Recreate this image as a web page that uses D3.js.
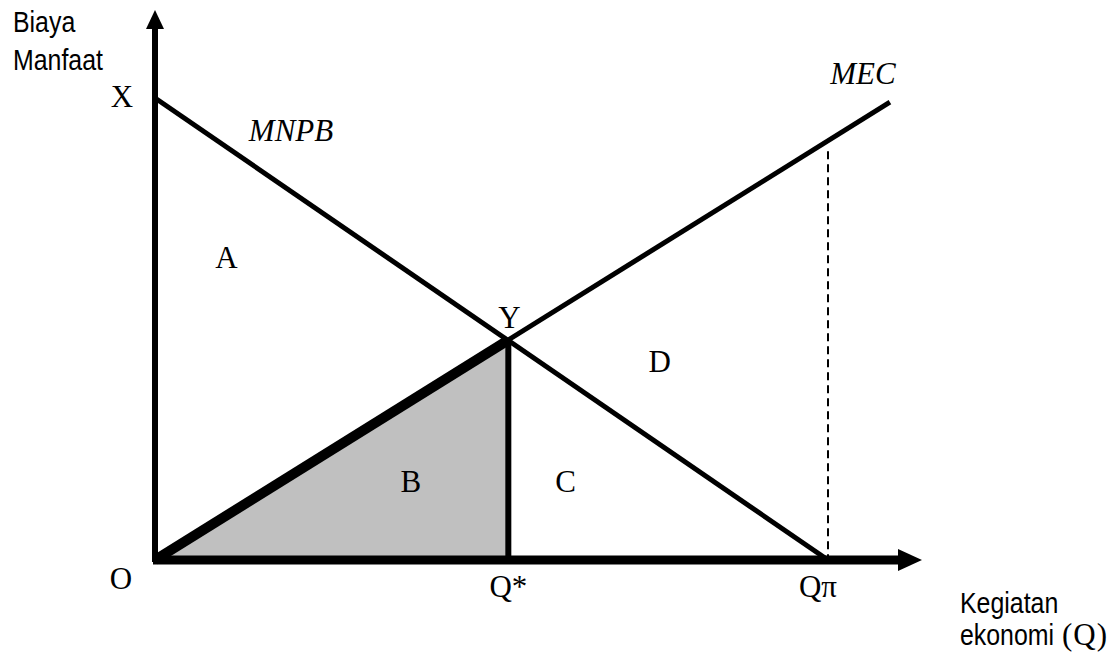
<!DOCTYPE html>
<html>
<head>
<meta charset="utf-8">
<script src="https://cdn.jsdelivr.net/npm/d3@7"></script>
<style>
  body { margin: 0; background: #fff; }
  .serif { font-family: "Liberation Serif", "Times New Roman", serif; font-size: 31px; }
  .sans { font-family: "Liberation Sans", Arial, sans-serif; font-size: 30px; }
</style>
</head>
<body>
<div class="canvas"></div>
<script>
// curves (Q, value)
const mnpbQ = [0, 10];
const mnpbV = [10, 0];
const mecQ = [0, 10.92];
const mecV = [0, 9.91];

// equilibrium
const qStar = [5.25];
const vStar = [4.76];

// points on the Q axis
const tickNames = ['O', 'Q*', 'Q\u03c0'];
const tickQ = [0, 5.25, 10];

// area labels
const areaNames = ['A', 'B', 'C', 'D'];
const areaQ = [1.06, 3.8, 6.1, 7.5];
const areaV = [6.32, 1.47, 1.47, 4.08];

const svg = d3.select('.canvas')
    .append('svg')
    .attr('width', 1111)
    .attr('height', 652);

const x = d3.scaleLinear().domain([0, 10]).range([155, 828]);
const y = d3.scaleLinear().domain([0, 10]).range([560, 98]);

const line = d3.line()
    .x(d => x(d[0]))
    .y(d => y(d[1]));

// shaded area B
svg.append('path')
    .attr('d', line([[0, 0], [qStar[0], vStar[0]], [qStar[0], 0]]) + 'Z')
    .attr('fill', '#c0c0c0');

// dashed line at Q pi
svg.append('line')
    .attr('x1', x(tickQ[2])).attr('x2', x(tickQ[2]))
    .attr('y1', y(8.85)).attr('y2', y(0))
    .attr('stroke', '#000')
    .attr('stroke-width', 2)
    .attr('stroke-dasharray', '8,5');

// axes with arrow heads
svg.append('line')
    .attr('x1', x(0)).attr('x2', x(0))
    .attr('y1', y(0) + 2).attr('y2', 26)
    .attr('stroke', '#000').attr('stroke-width', 6);
svg.append('path')
    .attr('d', `M${x(0)},10 L${x(0) - 9},29 L${x(0) + 9},29 Z`)
    .attr('fill', '#000');

svg.append('line')
    .attr('x1', x(0) - 2).attr('x2', 900)
    .attr('y1', y(0)).attr('y2', y(0))
    .attr('stroke', '#000').attr('stroke-width', 9);
svg.append('path')
    .attr('d', `M922,${y(0)} L898,${y(0) - 11} L898,${y(0) + 11} Z`)
    .attr('fill', '#000');

// MNPB
svg.append('path')
    .attr('d', line(d3.zip(mnpbQ, mnpbV)))
    .attr('stroke', '#000').attr('stroke-width', 5).attr('fill', 'none');

// MEC
svg.append('path')
    .attr('d', line(d3.zip(mecQ, mecV)))
    .attr('stroke', '#000').attr('stroke-width', 5).attr('fill', 'none');

// thick part of MEC up to Y
svg.append('path')
    .attr('d', line([[0, 0], [qStar[0], vStar[0]]]))
    .attr('stroke', '#000').attr('stroke-width', 10).attr('fill', 'none');

// Q* vertical
svg.append('line')
    .attr('x1', x(qStar[0])).attr('x2', x(qStar[0]))
    .attr('y1', y(vStar[0])).attr('y2', y(0))
    .attr('stroke', '#000').attr('stroke-width', 6);

// labels
const serif = (t, px, py, italic) => svg.append('text')
    .attr('class', 'serif')
    .attr('x', px).attr('y', py)
    .attr('text-anchor', 'middle')
    .style('font-style', italic ? 'italic' : 'normal')
    .text(t);

serif('X', 122, 107);
serif('Y', x(qStar[0]) + 1, y(vStar[0]) - 12);
serif('MNPB', 291, 141, true);
serif('MEC', 863, 84, true);

areaNames.forEach((n, i) => serif(n, x(areaQ[i]), y(areaV[i])));

tickNames.forEach((n, i) => serif(n, i === 0 ? 121 : x(tickQ[i]) + (i === 2 ? -10 : 0), i === 0 ? 589 : 597));

// axis titles, narrow sans (squeezed horizontally)
const sans = (lines, px, py, gap) => {
    const t = svg.append('text').attr('class', 'sans')
        .attr('transform', `translate(${px},${py}) scale(0.83,1)`);
    lines.forEach((l, i) => t.append('tspan').attr('x', 0).attr('y', i * gap).text(l));
};
sans(['Biaya', 'Manfaat'], 13, 32, 38);
sans(['Kegiatan', 'ekonomi'], 960, 613, 32);

// the (Q) part is set in the serif face
svg.append('text')
    .attr('class', 'serif')
    .attr('x', 1062).attr('y', 645)
    .style('letter-spacing', '1px')
    .text('(Q)');
</script>
</body>
</html>
